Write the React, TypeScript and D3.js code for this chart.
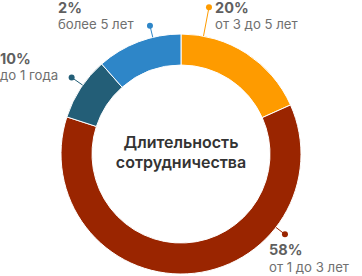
import React from "react";
import * as d3 from "d3";

const categories = ["от 3 до 5 лет", "от 1 до 3 лет", "до 1 года", "более 5 лет"];
const arcValues = [18.3, 61.7, 8.5, 11.5];
const percentLabels = ["20%", "58%", "10%", "2%"];
const colors = ["#FE9B00", "#9A2500", "#235E77", "#2E86C8"];
const centerTitle = ["Длительность", "сотрудничества"];

const W = 362;
const H = 276;
const cx = 181;
const cy = 154;
const outerR = 120;
const innerR = 89;

// layout for callouts: anchor angle (deg), dot radius, text position
const callouts = [
  { angle: 10.8, dotR: 149.4, tx: 215, ty: 12.5 },
  { angle: 127.7, dotR: 131.4, tx: 269, ty: 255 },
  { angle: 305, dotR: 133.5, tx: 0, ty: 63.5 },
  { angle: 346.4, dotR: 132, tx: 58, ty: 12.5 },
];

export default function App() {
  const pie = d3
    .pie<number>()
    .sort(null)
    .value((d) => d)
    .startAngle(0)
    .endAngle(2 * Math.PI);
  const arcs = pie(arcValues);
  const arcGen = d3.arc<d3.PieArcDatum<number>>().innerRadius(innerR).outerRadius(outerR);

  const pt = (deg: number, r: number) => {
    const a = (deg * Math.PI) / 180;
    return [cx + r * Math.sin(a), cy - r * Math.cos(a)];
  };

  return (
    <div style={{ position: "absolute", left: 0, top: 0 }}>
      <svg width={W} height={H} style={{ display: "block" }} fontFamily="Inter, 'Noto Sans', sans-serif">
        <g transform={`translate(${cx},${cy})`}>
          {arcs.map((a, i) => (
            <path key={i} d={arcGen(a) || ""} fill={colors[i]} stroke="#fff" strokeWidth={1} />
          ))}
        </g>
        {callouts.map((c, i) => {
          const [x1, y1] = pt(c.angle, outerR);
          const [x2, y2] = pt(c.angle, c.dotR);
          return (
            <g key={i}>
              <line x1={x1} y1={y1} x2={x2} y2={y2} stroke={colors[i]} strokeWidth={1} />
              <circle cx={x2} cy={y2} r={3} fill={colors[i]} />
              <text x={c.tx} y={c.ty} fontSize={14.5} fontWeight={700} fill="#5f5f5f">
                {percentLabels[i]}
              </text>
              <text x={c.tx} y={c.ty + 16.5} fontSize={13.2} fill="#707070">
                {categories[i]}
              </text>
            </g>
          );
        })}
        <text x={cx} y={148} textAnchor="middle" fontSize={16} fontWeight={600} fill="#333">
          {centerTitle[0]}
        </text>
        <text x={cx} y={168} textAnchor="middle" fontSize={16} fontWeight={600} fill="#333">
          {centerTitle[1]}
        </text>
      </svg>
    </div>
  );
}
